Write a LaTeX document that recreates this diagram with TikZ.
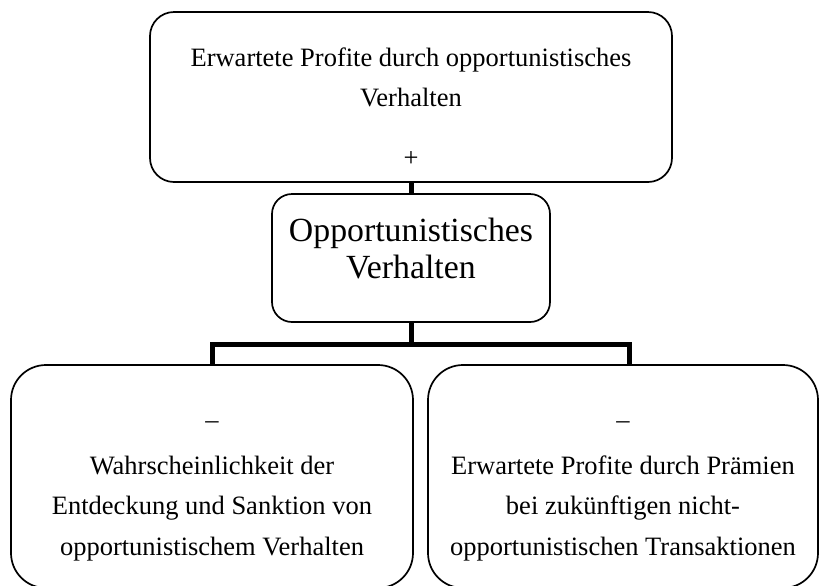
\documentclass[tikz,border=0pt]{standalone}
\usepackage{fontspec}
\setmainfont{Liberation Serif}[Ligatures={TeX,NoCommon}]

\tikzset{
  box/.style={draw, line width=0.85pt, inner sep=0pt},
  link/.style={line width=2.5pt, line join=miter},
  txt/.style={align=center, inner sep=0pt, anchor=base,
    font=\fontsize{13.25}{20.25}\selectfont},
  bigtxt/.style={align=center, inner sep=0pt, anchor=base,
    font=\fontsize{16.9}{18.3}\selectfont}
}

\begin{document}
\begin{tikzpicture}[x=0.5pt, y=-0.5pt]
\useasboundingbox (0,0) rectangle (821,585);

\node[box, rounded corners=12pt, minimum width=261pt, minimum height=85pt] (profit) at (411,97) {};
\node[box, rounded corners=10pt, minimum width=139pt, minimum height=64pt] (opp) at (411,258) {};
\node[box, rounded corners=17.5pt, minimum width=201pt, minimum height=111.5pt] (detect) at (212,476.5) {};
\node[box, rounded corners=17.5pt, minimum width=195pt, minimum height=111.5pt] (bonus) at (623,476.5) {};

% base anchor = baseline of the last line
\node[txt] (profitText) at (411,106.9) {Erwartete Profite durch opportunistisches\\Verhalten};
\node[txt] (plus) at (411,166) {+};
\node[bigtxt] (oppText) at (411,278.3) {Opportunistisches\\Verhalten};
\node[txt] (minusL) at (212,428) {\textendash};
\node[txt] (detectText) at (212,555) {Wahrscheinlichkeit der\\Entdeckung und Sanktion von\\opportunistischem Verhalten};
\node[txt] (minusR) at (623,428) {\textendash};
\node[txt] (bonusText) at (623,555) {Erwartete Profite durch Prämien\\bei zukünftigen nicht-\\opportunistischen Transaktionen};

\coordinate (fork) at (411,344);
\coordinate (forkL) at (212.5,344);
\coordinate (forkR) at (629,344);
\draw[link] (profit.south) -- (opp.north);
\draw[link] (opp.south) -- (fork);
\draw[link] (forkL |- detect.north) -- (forkL) -- (forkR) -- (forkR |- bonus.north);
\end{tikzpicture}
\end{document}
